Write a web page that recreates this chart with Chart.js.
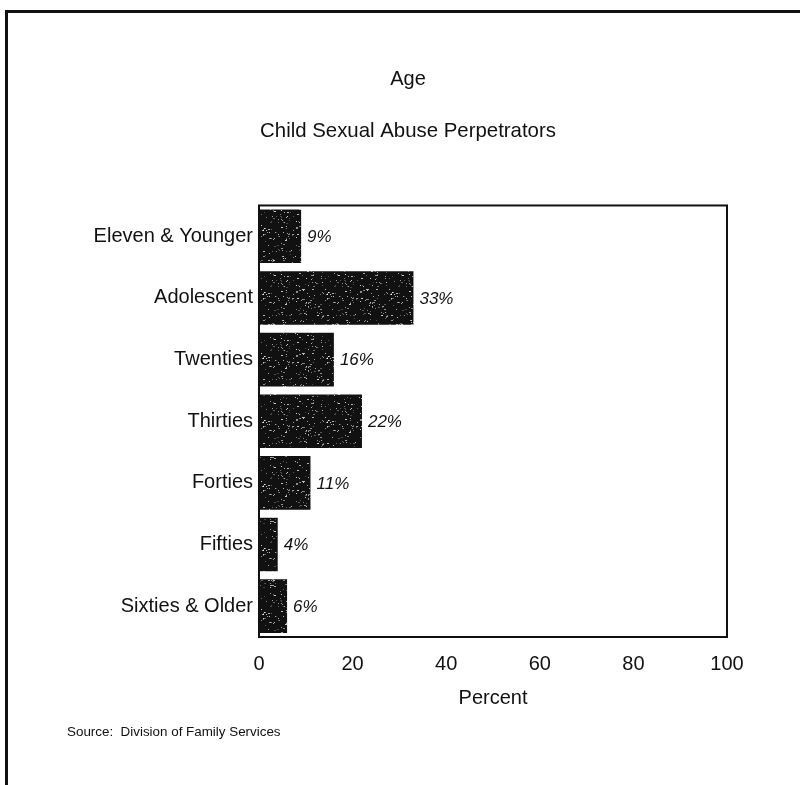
<!DOCTYPE html>
<html>
<head>
<meta charset="utf-8">
<script src="https://cdn.jsdelivr.net/npm/chart.js@4/dist/chart.umd.min.js"></script>
<style>
  html, body { margin: 0; padding: 0; background: #fff; }
  #wrap { width: 800px; height: 785px; position: relative; }
</style>
</head>
<body>
<div id="wrap"><canvas id="myChart" width="800" height="785"></canvas></div>
<script>
  const ageGroups = ['Eleven & Younger', 'Adolescent', 'Twenties', 'Thirties', 'Forties', 'Fifties', 'Sixties & Older'];
  const percents = [9, 33, 16, 22, 11, 4, 6];
  const xTicks = [0, 20, 40, 60, 80, 100];

  const FONT = "'Liberation Sans', Arial, sans-serif";

  // speckled dark fill like the photocopied bars
  function speckle() {
    const c = document.createElement('canvas');
    c.width = 64; c.height = 64;
    const g = c.getContext('2d');
    g.fillStyle = '#111';
    g.fillRect(0, 0, 64, 64);
    let s = 12345;
    const rnd = () => { s = (s * 1103515245 + 12345) & 0x7fffffff; return s / 0x7fffffff; };
    for (let i = 0; i < 220; i++) {
      const a = rnd() * 0.6 + 0.2;
      g.fillStyle = 'rgba(255,255,255,' + a.toFixed(2) + ')';
      g.fillRect(Math.floor(rnd() * 64), Math.floor(rnd() * 64), rnd() < 0.3 ? 2 : 1, 1);
    }
    return g.createPattern(c, 'repeat');
  }

  const extras = {
    id: 'extras',
    afterDraw(chart) {
      const { ctx, chartArea: a } = chart;
      ctx.save();
      // plot box
      ctx.strokeStyle = '#111';
      ctx.lineWidth = 2;
      ctx.strokeRect(a.left, a.top, a.right - a.left, a.bottom - a.top);
      // page frame
      ctx.lineWidth = 3;
      ctx.beginPath();
      ctx.moveTo(6.5, 785);
      ctx.lineTo(6.5, 11.5);
      ctx.lineTo(800, 11.5);
      ctx.stroke();
      // value labels
      const meta = chart.getDatasetMeta(0);
      ctx.fillStyle = '#111';
      ctx.font = 'italic 17px ' + FONT;
      ctx.textAlign = 'left';
      ctx.textBaseline = 'middle';
      meta.data.forEach((bar, i) => {
        ctx.fillText(percents[i] + '%', bar.x + 6, bar.y + 1);
      });
      // source
      ctx.font = '13.4px ' + FONT;
      ctx.fillText('Source:  Division of Family Services', 67, 732);
      ctx.restore();
    }
  };

  const ctx = document.getElementById('myChart');
  new Chart(ctx, {
    type: 'bar',
    data: {
      labels: ageGroups,
      datasets: [{
        data: percents,
        backgroundColor: speckle(),
        borderWidth: 0,
        barPercentage: 0.87,
        categoryPercentage: 1
      }]
    },
    options: {
      indexAxis: 'y',
      responsive: false,
      animation: false,
      layout: {
        padding: { left: 89, right: 73, top: 0, bottom: 75 }
      },
      plugins: {
        legend: { display: false },
        tooltip: { enabled: false },
        title: {
          display: true,
          text: 'Age',
          color: '#111',
          font: { family: FONT, size: 20, weight: 'normal' },
          padding: { top: 67, bottom: 28 }
        },
        subtitle: {
          display: true,
          text: 'Child Sexual Abuse Perpetrators',
          color: '#111',
          font: { family: FONT, size: 20.4, weight: 'normal' },
          padding: { top: 0, bottom: 62 }
        }
      },
      scales: {
        x: {
          min: 0,
          max: 100,
          afterBuildTicks: (axis) => { axis.ticks = xTicks.map(v => ({ value: v })); },
          afterFit: (axis) => { axis.height = 73; },
          grid: { display: false, drawTicks: false },
          border: { display: false },
          ticks: { color: '#111', padding: 15, font: { family: FONT, size: 20 } },
          title: {
            display: true,
            text: 'Percent',
            color: '#111',
            font: { family: FONT, size: 20 },
            padding: { top: 10, bottom: 0 }
          }
        },
        y: {
          afterFit: (axis) => { axis.width = 170; },
          grid: { display: false, drawTicks: false },
          border: { display: false },
          ticks: { color: '#111', padding: 6, font: { family: FONT, size: 20 } }
        }
      }
    },
    plugins: [extras]
  });
</script>
</body>
</html>
